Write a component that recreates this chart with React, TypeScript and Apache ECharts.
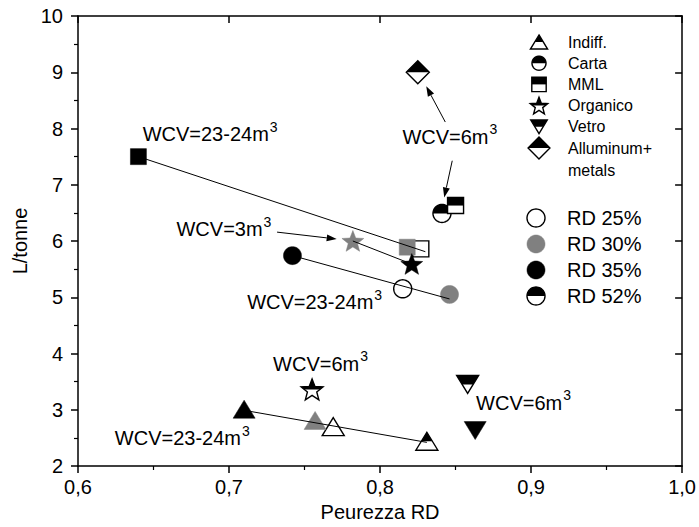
import React, { useEffect, useRef } from 'react';
import * as echarts from 'echarts';

const FONT = '"Liberation Sans", Arial, Helvetica, sans-serif';
const GREY = '#808080';

// RD levels (index used for fill style)
const rdLabels = ['RD 25%', 'RD 30%', 'RD 35%', 'RD 52%'];

// Materials
const materialNames = ['Indiff.', 'Carta', 'MML', 'Organico', 'Vetro', 'Alluminum+'];
const materialExtra = 'metals';
const materialKinds = ['tri', 'circle', 'square', 'star', 'itri', 'diamond'];

// Values per material, indexed by RD level [25%, 30%, 35%, 52%]
const indiffX = [0.769, 0.757, 0.710, 0.831];
const indiffY = [2.70, 2.81, 3.01, 2.44];
const cartaX = [0.815, 0.846, 0.742, 0.841];
const cartaY = [5.15, 5.05, 5.74, 6.49];
const mmlX = [0.827, 0.818, 0.640, 0.850];
const mmlY = [5.86, 5.89, 7.50, 6.63];
const organicoX = [null, 0.782, 0.821, 0.755];
const organicoY = [null, 6.00, 5.59, 3.36];
const vetroX = [null, null, 0.863, 0.858];
const vetroY = [null, null, 2.63, 3.45];
const alluminioX = [null, null, null, 0.825];
const alluminioY = [null, null, null, 9.00];

// Connecting lines
const fitIndiffX = [0.710, 0.831];
const fitIndiffY = [2.99, 2.42];
const fitCartaX = [0.742, 0.846];
const fitCartaY = [5.74, 4.97];
const fitMmlX = [0.640, 0.830];
const fitMmlY = [7.50, 5.81];
const fitOrganicoX = [0.782, 0.821];
const fitOrganicoY = [6.00, 5.59];

// Axis ticks
const xTicks = { min: 0.6, max: 1.0, interval: 0.1 };
const yTicks = { min: 2, max: 10, interval: 1 };

// Annotations: text main part, superscript, anchor (left edge, vertical middle) in data units
const annoText = ['WCV=23-24m', 'WCV=3m', 'WCV=23-24m', 'WCV=6m', 'WCV=6m', 'WCV=6m', 'WCV=23-24m'];
const annoSup = ['3', '3', '3', '3', '3', '3', '3'];
const annoX = [0.6428, 0.6652, 0.7120, 0.8148, 0.7292, 0.8636, 0.6244];
const annoY = [7.90, 6.21, 4.91, 7.85, 3.815, 3.128, 2.493];

// Arrows (from -> to) in data units
const arrowFromX = [0.7318, 0.8432, 0.8478];
const arrowFromY = [6.158, 8.115, 7.427];
const arrowToX = [0.7713, 0.8306, 0.8425];
const arrowToY = [6.035, 8.749, 6.775];

type Pt = number[];

function shapePoly(kind: string): Pt[] {
  switch (kind) {
    case 'tri':
      return [[0, -9], [11, 9], [-11, 9]];
    case 'itri':
      return [[-11, -9], [11, -9], [0, 9]];
    case 'square':
      return [[-8, -8], [8, -8], [8, 8], [-8, 8]];
    case 'diamond':
      return [[0, -11.5], [11.5, 0], [0, 11.5], [-11.5, 0]];
    case 'star': {
      const pts: Pt[] = [];
      for (let i = 0; i < 10; i++) {
        const r = i % 2 === 0 ? 11.5 : 4.9;
        const a = -Math.PI / 2 + (i * Math.PI) / 5;
        pts.push([r * Math.cos(a), r * Math.sin(a) + 1]);
      }
      return pts;
    }
    default: {
      const pts: Pt[] = [];
      for (let i = 0; i < 48; i++) {
        const a = (i / 48) * Math.PI * 2;
        pts.push([9 * Math.cos(a), 9 * Math.sin(a)]);
      }
      return pts;
    }
  }
}

function clipTop(poly: Pt[]): Pt[] {
  const out: Pt[] = [];
  for (let i = 0; i < poly.length; i++) {
    const a = poly[i];
    const b = poly[(i + 1) % poly.length];
    const ain = a[1] <= 0;
    const bin = b[1] <= 0;
    if (ain) out.push(a);
    if (ain !== bin) {
      const t = a[1] / (a[1] - b[1]);
      out.push([a[0] + t * (b[0] - a[0]), 0]);
    }
  }
  return out;
}

function markerEls(kind: string, rd: number, sc: number): any[] {
  const poly = shapePoly(kind).map(([x, y]) => [x * sc, y * sc]);
  if (rd === 0)
    return [{ type: 'polygon', shape: { points: poly }, style: { fill: '#fff', stroke: '#000', lineWidth: 1.4 } }];
  if (rd === 1)
    return [{ type: 'polygon', shape: { points: poly }, style: { fill: GREY, stroke: GREY, lineWidth: 0.5 } }];
  if (rd === 2)
    return [{ type: 'polygon', shape: { points: poly }, style: { fill: '#000', stroke: '#000', lineWidth: 0.5 } }];
  return [
    { type: 'polygon', shape: { points: poly }, style: { fill: '#fff' } },
    { type: 'polygon', shape: { points: clipTop(poly) }, style: { fill: '#000' } },
    { type: 'polygon', shape: { points: poly }, style: { fill: 'none', stroke: '#000', lineWidth: 1.4 } },
  ];
}

const materialXs = [indiffX, cartaX, mmlX, organicoX, vetroX, alluminioX];
const materialYs = [indiffY, cartaY, mmlY, organicoY, vetroY, alluminioY];
const fitXs = [fitIndiffX, fitCartaX, fitMmlX, fitOrganicoX];
const fitYs = [fitIndiffY, fitCartaY, fitMmlY, fitOrganicoY];

function arrowEls(from: Pt, to: Pt): any[] {
  const dx = to[0] - from[0];
  const dy = to[1] - from[1];
  const L = Math.hypot(dx, dy);
  const ux = dx / L;
  const uy = dy / L;
  const hl = 10;
  const hw = 3.5;
  const base = [to[0] - ux * hl, to[1] - uy * hl];
  return [
    { type: 'line', z: 20, shape: { x1: from[0], y1: from[1], x2: base[0], y2: base[1] }, style: { stroke: '#000', lineWidth: 1 } },
    {
      type: 'polygon',
      z: 20,
      shape: { points: [to, [base[0] - uy * hw, base[1] + ux * hw], [base[0] + uy * hw, base[1] - ux * hw]] },
      style: { fill: '#000' },
    },
  ];
}

export default function App() {
  const ref = useRef<HTMLDivElement>(null);
  useEffect(() => {
    if (!ref.current) return;
    const chart = echarts.init(ref.current, null, { renderer: 'svg' });
    const axisLine = { show: true, onZero: false, lineStyle: { color: '#000', width: 1.5 } };
    const labelStyle = { fontSize: 20, color: '#000', fontFamily: FONT };

    const series: any[] = [];
    materialNames.forEach((name, mi) => {
      const xs = materialXs[mi];
      const ys = materialYs[mi];
      const data: any[] = [];
      xs.forEach((x, i) => {
        if (x != null && ys[i] != null) data.push([x, ys[i], i]);
      });
      const kind = materialKinds[mi];
      series.push({
        type: 'custom',
        name,
        xAxisIndex: 0,
        yAxisIndex: 0,
        z: 2,
        encode: { x: 0, y: 1 },
        data,
        renderItem: (params: any, api: any) => {
          const p = api.coord([api.value(0), api.value(1)]);
          return { type: 'group', x: p[0], y: p[1], children: markerEls(kind, api.value(2), 1) };
        },
      });
    });
    fitXs.forEach((xs, fi) => {
      series.push({
        type: 'line',
        xAxisIndex: 0,
        yAxisIndex: 0,
        z: 4,
        silent: true,
        symbol: 'none',
        lineStyle: { color: '#000', width: 1 },
        data: xs.map((x, i) => [x, fitYs[fi][i]]),
      });
    });

    chart.setOption({
      animation: false,
      backgroundColor: '#fff',
      grid: { left: 78, right: 13, top: 16, bottom: 58, containLabel: false },
      xAxis: [
        {
          type: 'value',
          position: 'bottom',
          min: xTicks.min,
          max: xTicks.max,
          interval: xTicks.interval,
          axisLine,
          axisTick: { show: true, inside: false, length: 7, lineStyle: { color: '#000', width: 1.5 } },
          minorTick: { show: true, splitNumber: 2, length: 4, lineStyle: { color: '#000', width: 1.2 } },
          splitLine: { show: false },
          axisLabel: {
            ...labelStyle,
            margin: 11,
            showMinLabel: true,
            showMaxLabel: true,
            formatter: (v: number) => v.toFixed(1).replace('.', ','),
          },
          name: 'Peurezza RD',
          nameLocation: 'middle',
          nameGap: 36,
          nameTextStyle: labelStyle,
        },
        {
          type: 'value',
          position: 'top',
          min: xTicks.min,
          max: xTicks.max,
          interval: xTicks.interval,
          axisLine,
          axisTick: { show: true, inside: true, length: 7, lineStyle: { color: '#000', width: 1.5 } },
          splitLine: { show: false },
          axisLabel: { show: false },
        },
      ],
      yAxis: [
        {
          type: 'value',
          position: 'left',
          min: yTicks.min,
          max: yTicks.max,
          interval: yTicks.interval,
          axisLine,
          axisTick: { show: true, inside: false, length: 7, lineStyle: { color: '#000', width: 1.5 } },
          minorTick: { show: true, splitNumber: 2, length: 4, lineStyle: { color: '#000', width: 1.2 } },
          splitLine: { show: false },
          axisLabel: { ...labelStyle, margin: 15 },
          name: 'L/tonne',
          nameLocation: 'middle',
          nameGap: 45,
          nameRotate: 90,
          nameTextStyle: labelStyle,
        },
        {
          type: 'value',
          position: 'right',
          min: yTicks.min,
          max: yTicks.max,
          interval: yTicks.interval,
          axisLine,
          axisTick: { show: true, inside: true, length: 7, lineStyle: { color: '#000', width: 1.5 } },
          splitLine: { show: false },
          axisLabel: { show: false },
        },
      ],
      series,
    });

    // Graphic overlay: annotations, arrows, legends
    const g: any[] = [];
    const toPx = (x: number, y: number) => chart.convertToPixel({ gridIndex: 0 } as any, [x, y]) as number[];

    annoText.forEach((t, i) => {
      const p = toPx(annoX[i], annoY[i]);
      g.push({
        type: 'text',
        x: p[0],
        y: p[1],
        z: 20,
        style: {
          text: `{a|${t}}{s|${annoSup[i]}}`,
          textAlign: 'left',
          verticalAlign: 'middle',
          rich: {
            a: { fontSize: 20, fontFamily: FONT, fill: '#000' },
            s: { fontSize: 14, fontFamily: FONT, fill: '#000', padding: [0, 0, 15, 1] },
          },
        },
      });
    });

    arrowFromX.forEach((fx, i) => {
      const a = toPx(fx, arrowFromY[i]);
      const b = toPx(arrowToX[i], arrowToY[i]);
      arrowEls(a, b).forEach((e) => g.push(e));
    });

    // Material legend
    const legSymX = 539;
    const legTextX = 568;
    const legY0 = 42;
    const legStep = 21.2;
    const legScale: Record<string, number> = { tri: 0.78, circle: 0.78, square: 0.9, star: 0.8, itri: 0.75, diamond: 0.95 };
    materialNames.forEach((name, i) => {
      const y = legY0 + i * legStep;
      g.push({
        type: 'group',
        x: legSymX,
        y,
        z: 20,
        children: markerEls(materialKinds[i], 3, legScale[materialKinds[i]]),
      });
      g.push({
        type: 'text',
        x: legTextX,
        y,
        z: 20,
        style: { text: name, fontSize: 16, fontFamily: FONT, fill: '#000', textAlign: 'left', verticalAlign: 'middle' },
      });
    });
    g.push({
      type: 'text',
      x: legTextX,
      y: legY0 + materialNames.length * legStep + 1.5,
      z: 20,
      style: { text: materialExtra, fontSize: 16, fontFamily: FONT, fill: '#000', textAlign: 'left', verticalAlign: 'middle' },
    });

    // RD legend
    const rdSymX = 536;
    const rdTextX = 567;
    const rdY0 = 218;
    const rdStep = 26;
    rdLabels.forEach((lab, i) => {
      const y = rdY0 + i * rdStep;
      g.push({ type: 'group', x: rdSymX, y, z: 20, children: markerEls('circle', i, 1) });
      g.push({
        type: 'text',
        x: rdTextX,
        y,
        z: 20,
        style: { text: lab, fontSize: 20, fontFamily: FONT, fill: '#000', textAlign: 'left', verticalAlign: 'middle' },
      });
    });

    chart.setOption({ graphic: g });

    return () => chart.dispose();
  }, []);

  return <div ref={ref} style={{ position: 'fixed', left: 0, top: 0, width: 699, height: 527, background: '#fff' }} />;
}
